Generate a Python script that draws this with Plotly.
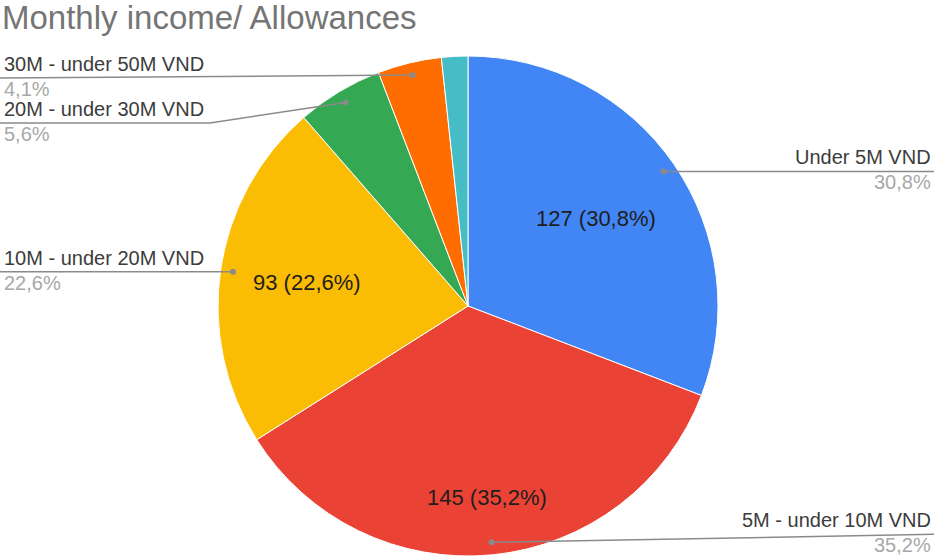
import math
import plotly.graph_objects as go

# ---- data ----
categories = ["Under 5M VND", "5M - under 10M VND", "10M - under 20M VND",
              "20M - under 30M VND", "30M - under 50M VND", "50M VND and above"]
counts = [127, 145, 93, 23, 17, 7]
colors = ["#4285F4", "#EA4335", "#FBBC04", "#34A853", "#FF6D01", "#46BDC6"]
show_inside = [True, True, True, False, False, False]
show_outside = [True, True, True, True, True, False]
title = "Monthly income/ Allowances"

# ---- layout constants (pixels) ----
W, H = 934, 556
CX, CY, R = 468, 306, 250
FONT = "Liberation Sans, Arial, sans-serif"
label_side = ["right", "right", "left", "left", "left", None]
line_y_offset = [0, -8, 0, 0, 3, 0]
inside_radius = [0.62, 0.77, 0.65, 0, 0, 0]
green_line_y = 123

total = sum(counts)
pcts = [c / total * 100 for c in counts]

def fmt_pct(p):
    return f"{p:.1f}".replace(".", ",") + "%"

def px(x):
    return x / W

def py(y):
    return 1 - y / H

fig = go.Figure(go.Pie(
    labels=categories,
    values=counts,
    sort=False,
    direction="clockwise",
    rotation=0,
    marker=dict(colors=colors, line=dict(color="white", width=1)),
    textinfo="none",
    domain=dict(x=[(CX - R) / W, (CX + R) / W], y=[max(0, 1 - (CY + R) / H), min(1, 1 - (CY - R) / H)]),
    hoverinfo="label+value+percent",
    showlegend=False,
))

shapes = []
annotations = []
cum = 0
for i, c in enumerate(counts):
    frac_mid = (cum + c / 2) / total
    cum += c
    ang = frac_mid * 2 * math.pi
    if show_inside[i]:
        rr = inside_radius[i] * R
        annotations.append(dict(xref="paper", yref="paper",
                                x=px(CX + rr * math.sin(ang)), y=py(CY - rr * math.cos(ang)),
                                xanchor="center", yanchor="middle", showarrow=False,
                                text=f"{c} ({fmt_pct(pcts[i])})",
                                font=dict(family=FONT, size=22, color="#1e1e1e")))
    if not show_outside[i]:
        continue
    dot_x = CX + 0.95 * R * math.sin(ang)
    dot_y = CY - 0.95 * R * math.cos(ang)
    side = label_side[i]
    ly = dot_y + line_y_offset[i]
    pts = [(dot_x, dot_y)]
    if categories[i].startswith("20M"):
        ly = green_line_y
        pts.append((210, ly))
    pts.append((W if side == "right" else 0, ly))
    for (x0, y0), (x1, y1) in zip(pts[:-1], pts[1:]):
        shapes.append(dict(type="line", xref="paper", yref="paper",
                           x0=px(x0), y0=py(y0), x1=px(x1), y1=py(y1),
                           line=dict(color="#8a8a8a", width=1.5)))
    shapes.append(dict(type="circle", xref="paper", yref="paper",
                       x0=px(dot_x - 3), x1=px(dot_x + 3), y0=py(dot_y - 3), y1=py(dot_y + 3),
                       fillcolor="#8a8a8a", line=dict(width=0)))
    xanchor = "right" if side == "right" else "left"
    xpos = px(W - 1) if side == "right" else px(2)
    annotations.append(dict(xref="paper", yref="paper", x=xpos, y=py(ly - 14),
                            xanchor=xanchor, yanchor="middle", showarrow=False,
                            text=categories[i], font=dict(family=FONT, size=20, color="#3c3c3c")))
    annotations.append(dict(xref="paper", yref="paper", x=xpos, y=py(ly + 11),
                            xanchor=xanchor, yanchor="middle", showarrow=False,
                            text=fmt_pct(pcts[i]), font=dict(family=FONT, size=20, color="#a8a8a8")))

annotations.append(dict(xref="paper", yref="paper", x=px(0), y=py(17), xanchor="left", yanchor="middle",
                        showarrow=False, text=title,
                        font=dict(family=FONT, size=33, color="#757575")))

fig.update_layout(
    width=W, height=H,
    margin=dict(l=0, r=0, t=0, b=0),
    paper_bgcolor="white",
    shapes=shapes,
    annotations=annotations,
)

fig.write_html("out.html")
